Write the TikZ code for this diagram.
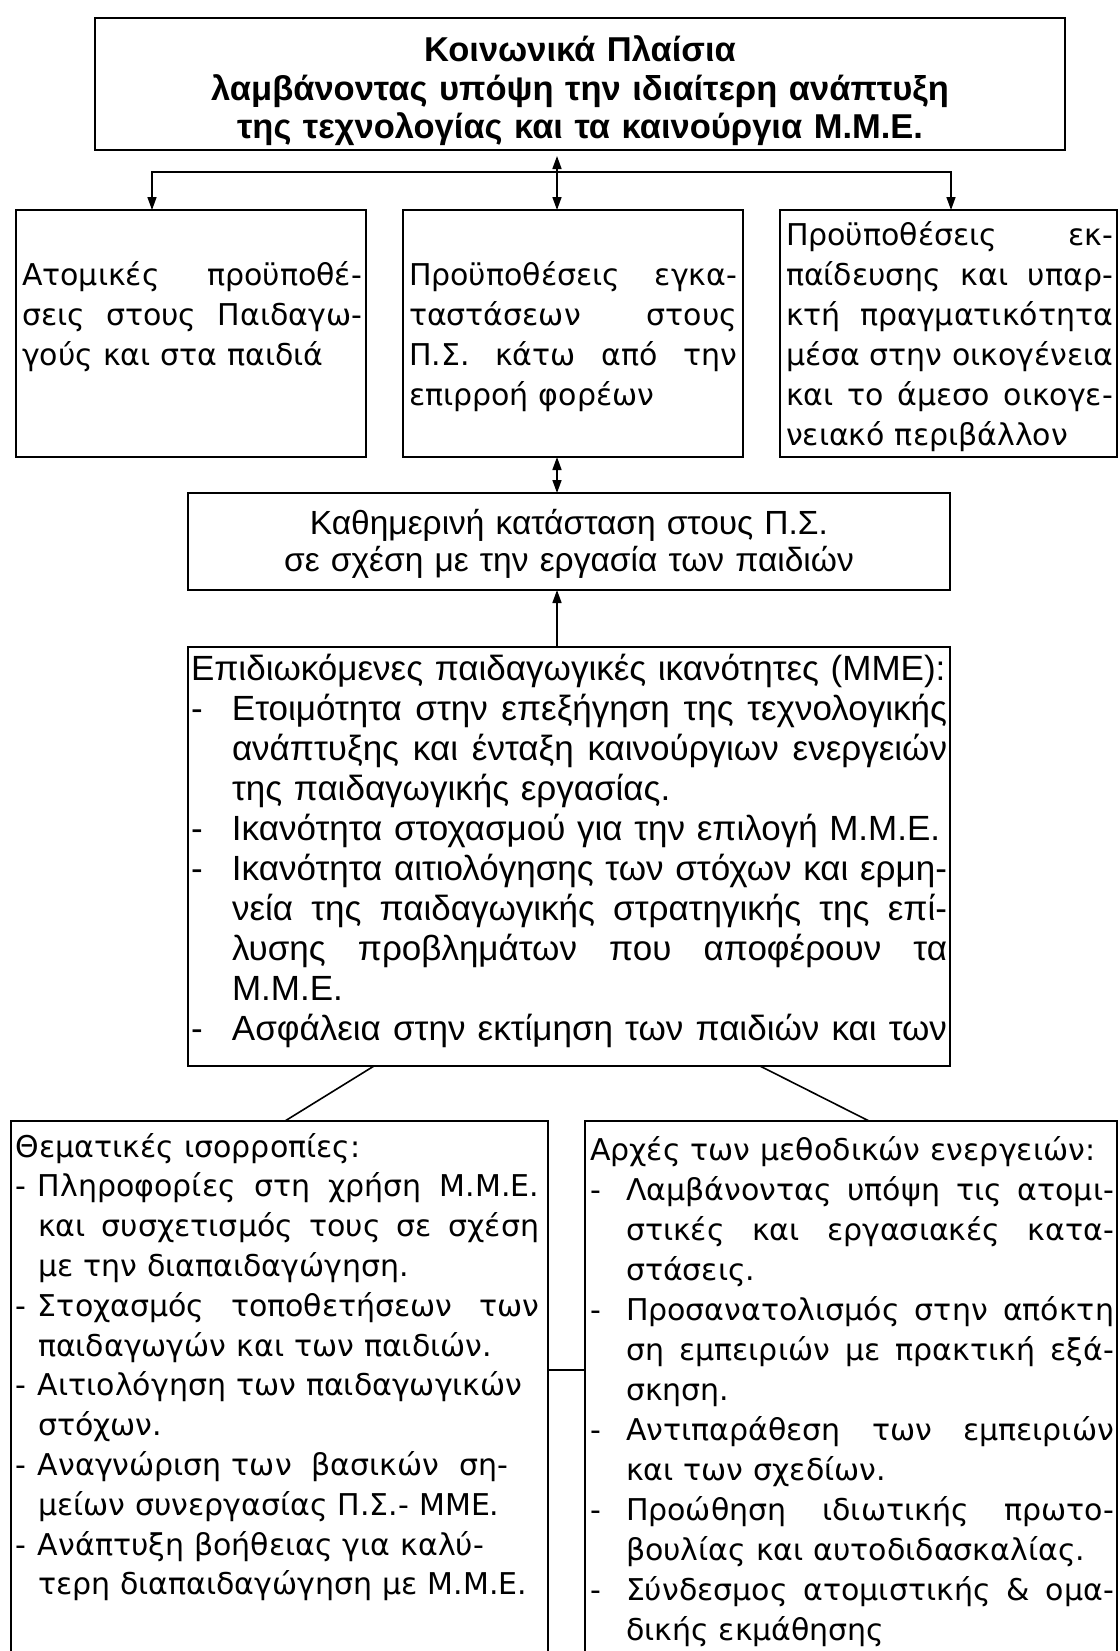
\documentclass[tikz,border=0pt]{standalone}
\usepackage{fontspec}
\setmainfont{Liberation Sans}
\newfontfamily\gothic{DejaVu Sans}
\usetikzlibrary{arrows.meta}
% stretchable interword space
\newcommand\fillsp{\spaceskip=\fontdimen2\font plus 1fil\relax}
% justified full line
\newcommand\lnJ[1]{\makebox[\linewidth][s]{\fillsp #1}}
% item first line, justified / natural
\newcommand\itJ[2]{\makebox[#1][l]{-}\makebox[\dimexpr\linewidth-#1\relax][s]{\fillsp #2}}
\newcommand\itN[2]{\makebox[#1][l]{-}\mbox{#2}}
% continuation line, justified / natural
\newcommand\coJ[2]{\hspace*{#1}\makebox[\dimexpr\linewidth-#1\relax][s]{\fillsp #2}}
\newcommand\coN[2]{\hspace*{#1}\mbox{#2}}
\begin{document}
\begin{tikzpicture}[x=1pt,y=-1pt,
  box/.style={draw, line width=2pt, inner sep=0pt, outer sep=0pt, anchor=north west},
  txt/.style={inner sep=0pt, outer sep=0pt, anchor=base west, align=left},
  ctxt/.style={inner sep=0pt, outer sep=0pt, anchor=base, align=center},
  gfont/.style={font=\gothic\fontsize{30}{40}\selectfont},
  conn/.style={line width=1.6pt},
  arr/.style={conn, -{Triangle[length=13pt,width=9pt]}},
  arrb/.style={conn, {Triangle[length=13pt,width=9pt]}-{Triangle[length=13pt,width=9pt]}}]
\useasboundingbox (0,0) rectangle (1119,1651);
\fill[white] (0,0) rectangle (1119,1651);

% boxes
\node[box, minimum width=970pt, minimum height=132pt] (T) at (95,18) {};
\node[box, minimum width=350pt, minimum height=247pt] (L) at (16,210) {};
\node[box, minimum width=340pt, minimum height=247pt] (M) at (403,210) {};
\node[box, minimum width=337pt, minimum height=247pt] (R) at (780,210) {};
\node[box, minimum width=762pt, minimum height=97pt] (K) at (188,493) {};
\node[box, minimum width=762pt, minimum height=419pt] (B) at (188,647) {};
\node[box, minimum width=537pt, minimum height=560pt] (BL) at (11,1121) {};
\node[box, minimum width=532pt, minimum height=560pt] (BR) at (585,1121) {};

% texts
\node[ctxt, text width=980pt, font=\fontsize{34.5}{38.5}\selectfont\bfseries] (Tt) at (580,62)
  {Κοινωνικά Πλαίσια\\ λαμβάνοντας υπόψη την ιδιαίτερη ανάπτυξη\\ της τεχνολογίας και τα καινούργια Μ.Μ.Ε.};

\node[txt, gfont, text width=340pt] (Lt) at (22,285)
  {\lnJ{Ατομικές προϋποθέ-}\\ \lnJ{σεις στους Παιδαγω-}\\ γούς και στα παιδιά};
\node[txt, gfont, text width=328pt] (Mt) at (409,285)
  {\lnJ{Προϋποθέσεις εγκα-}\\ \lnJ{ταστάσεων στους}\\ \lnJ{Π.Σ. κάτω από την}\\ επιρροή φορέων};
\node[txt, gfont, text width=327pt] (Rt) at (786,245)
  {\lnJ{Προϋποθέσεις εκ-}\\ \lnJ{παίδευσης και υπαρ-}\\ \lnJ{κτή πραγματικότητα}\\ \lnJ{μέσα στην οικογένεια}\\ \lnJ{και το άμεσο οικογε-}\\ νειακό περιβάλλον};

\node[ctxt, text width=760pt, font=\fontsize{33.5}{37}\selectfont] (Kt) at (569,534)
  {Καθημερινή κατάσταση στους Π.Σ.\\ σε σχέση με την εργασία των παιδιών};

\node[txt, text width=756pt, font=\fontsize{35}{40}\selectfont] (Bt) at (191,680)
  {\mbox{Επιδιωκόμενες παιδαγωγικές ικανότητες (ΜΜΕ):}\\
   \itJ{41pt}{Ετοιμότητα στην επεξήγηση της τεχνολογικής}\\
   \coJ{41pt}{ανάπτυξης και ένταξη καινούργιων ενεργειών}\\
   \coN{41pt}{της παιδαγωγικής εργασίας.}\\
   \itN{41pt}{Ικανότητα στοχασμού για την επιλογή Μ.Μ.Ε.}\\
   \itJ{41pt}{Ικανότητα αιτιολόγησης των στόχων και ερμη-}\\
   \coJ{41pt}{νεία της παιδαγωγικής στρατηγικής της επί-}\\
   \coJ{41pt}{λυσης προβλημάτων που αποφέρουν τα}\\
   \coN{41pt}{Μ.Μ.Ε.}\\
   \itJ{41pt}{Ασφάλεια στην εκτίμηση των παιδιών και των}};

\node[txt, text width=523pt, font=\gothic\fontsize{30}{39.8}\selectfont] (BLt) at (16,1157)
  {Θεματικές ισορροπίες:\\
   \itJ{22pt}{Πληροφορίες στη χρήση Μ.Μ.Ε.}\\
   \coJ{22pt}{και συσχετισμός τους σε σχέση}\\
   \coN{22pt}{με την διαπαιδαγώγηση.}\\
   \itJ{22pt}{Στοχασμός τοποθετήσεων των}\\
   \coN{22pt}{παιδαγωγών και των παιδιών.}\\
   \itN{22pt}{Αιτιολόγηση των παιδαγωγικών}\\
   \coN{22pt}{στόχων.}\\
   \itN{22pt}{Αναγνώριση των\ \ βασικών\ \ ση-}\\
   \coN{22pt}{μείων συνεργασίας Π.Σ.- ΜΜΕ.}\\
   \itN{22pt}{Ανάπτυξη βοήθειας για καλύ-}\\
   \coN{22pt}{τερη διαπαιδαγώγηση με Μ.Μ.Ε.}};

\node[txt, text width=524pt, font=\gothic\fontsize{30}{40}\selectfont] (BRt) at (590,1160)
  {Αρχές των μεθοδικών ενεργειών:\\
   \itJ{36pt}{Λαμβάνοντας υπόψη τις ατομι-}\\
   \coJ{36pt}{στικές και εργασιακές κατα-}\\
   \coN{36pt}{στάσεις.}\\
   \itJ{36pt}{Προσανατολισμός στην απόκτη}\\
   \coJ{36pt}{ση εμπειριών με πρακτική εξά-}\\
   \coN{36pt}{σκηση.}\\
   \itJ{36pt}{Αντιπαράθεση των εμπειριών}\\
   \coN{36pt}{και των σχεδίων.}\\
   \itJ{36pt}{Προώθηση ιδιωτικής πρωτο-}\\
   \coN{36pt}{βουλίας και αυτοδιδασκαλίας.}\\
   \itJ{36pt}{Σύνδεσμος ατομιστικής \& ομα-}\\
   \coN{36pt}{δικής εκμάθησης}};

% connector guide coordinates
\coordinate (ax) at (557,0);
\coordinate (lx) at (152,0);
\coordinate (rx) at (951,0);
\coordinate (bus) at (0,172);
\coordinate (dl1) at (374,0);
\coordinate (dl2) at (285,0);
\coordinate (dr1) at (760,0);
\coordinate (dr2) at (869,0);
\coordinate (cy) at (0,1370);

% connectors
\draw[arrb, shorten <=6pt] (T.south -| ax) -- (M.north -| ax);
\draw[arr] (ax |- bus) -| (L.north -| lx);
\draw[arr] (ax |- bus) -| (R.north -| rx);
\draw[arrb] (M.south -| ax) -- (K.north -| ax);
\draw[arr] (B.north -| ax) -- (K.south -| ax);
\draw[conn] (B.south -| dl1) -- (BL.north -| dl2);
\draw[conn] (B.south -| dr1) -- (BR.north -| dr2);
\draw[conn] (BL.east |- cy) -- (BR.west |- cy);
\end{tikzpicture}
\end{document}
